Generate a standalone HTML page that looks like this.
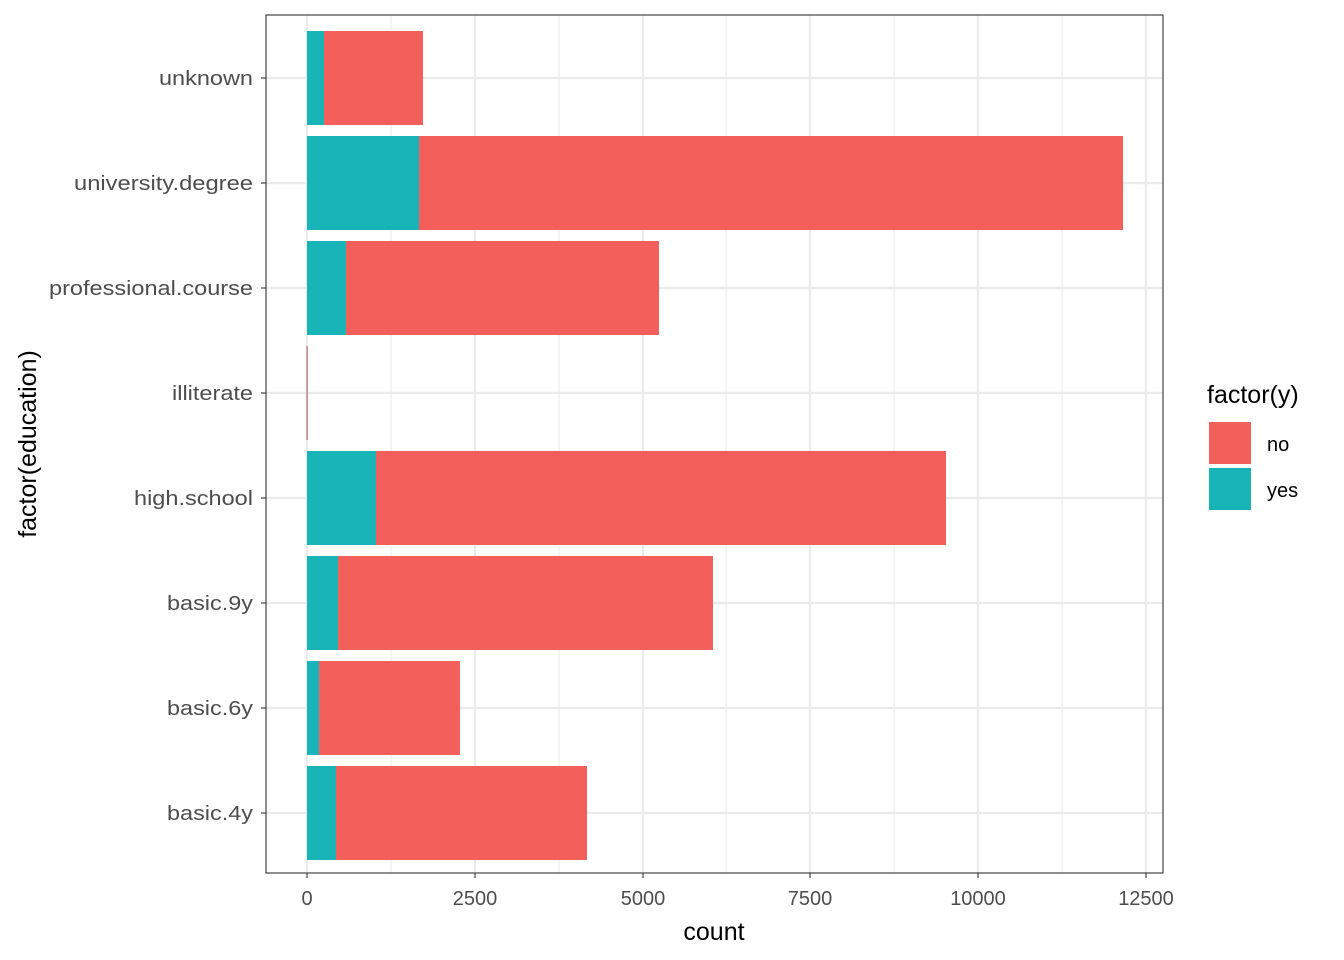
<!DOCTYPE html>
<html><head><meta charset="utf-8"><style>
html,body{margin:0;padding:0;background:#fff;}
svg{display:block;font-family:"Liberation Sans",Arial,sans-serif;}
</style></head><body>
<svg width="1344" height="960" viewBox="0 0 1344 960">
<rect x="266" y="15" width="897" height="858" fill="#fff"/>
<g stroke="#ebebeb" stroke-width="1.1">
<line x1="391" y1="15" x2="391" y2="873"/><line x1="559" y1="15" x2="559" y2="873"/><line x1="726" y1="15" x2="726" y2="873"/><line x1="894" y1="15" x2="894" y2="873"/><line x1="1062" y1="15" x2="1062" y2="873"/>
</g>
<g stroke="#ebebeb" stroke-width="2.2">
<line x1="307" y1="15" x2="307" y2="873"/><line x1="475" y1="15" x2="475" y2="873"/><line x1="643" y1="15" x2="643" y2="873"/><line x1="810" y1="15" x2="810" y2="873"/><line x1="978" y1="15" x2="978" y2="873"/><line x1="1146" y1="15" x2="1146" y2="873"/>
<line x1="266" y1="78" x2="1163" y2="78"/><line x1="266" y1="183" x2="1163" y2="183"/><line x1="266" y1="288" x2="1163" y2="288"/><line x1="266" y1="393" x2="1163" y2="393"/><line x1="266" y1="498" x2="1163" y2="498"/><line x1="266" y1="603" x2="1163" y2="603"/><line x1="266" y1="708" x2="1163" y2="708"/><line x1="266" y1="813" x2="1163" y2="813"/>
</g>
<g>
<rect x="307" y="31" width="116" height="94" fill="#f35f5a"/><rect x="307" y="31" width="17" height="94" fill="#19b4b8"/>
<rect x="307" y="136" width="816" height="94" fill="#f35f5a"/><rect x="307" y="136" width="112" height="94" fill="#19b4b8"/>
<rect x="307" y="241" width="352" height="94" fill="#f35f5a"/><rect x="307" y="241" width="39" height="94" fill="#19b4b8"/>
<rect x="306.5" y="346" width="1.2" height="94" fill="#b07070"/>
<rect x="307" y="451" width="639" height="94" fill="#f35f5a"/><rect x="307" y="451" width="69" height="94" fill="#19b4b8"/>
<rect x="307" y="556" width="406" height="94" fill="#f35f5a"/><rect x="307" y="556" width="31" height="94" fill="#19b4b8"/>
<rect x="307" y="661" width="153" height="94" fill="#f35f5a"/><rect x="307" y="661" width="12" height="94" fill="#19b4b8"/>
<rect x="307" y="766" width="280" height="94" fill="#f35f5a"/><rect x="307" y="766" width="29" height="94" fill="#19b4b8"/>
</g>
<rect x="266" y="15" width="897" height="858" fill="none" stroke="#333" stroke-width="1.1"/>
<g stroke="#333" stroke-width="1.1">
<line x1="261" y1="78" x2="266" y2="78"/><line x1="261" y1="183" x2="266" y2="183"/><line x1="261" y1="288" x2="266" y2="288"/><line x1="261" y1="393" x2="266" y2="393"/><line x1="261" y1="498" x2="266" y2="498"/><line x1="261" y1="603" x2="266" y2="603"/><line x1="261" y1="708" x2="266" y2="708"/><line x1="261" y1="813" x2="266" y2="813"/>
<line x1="307" y1="873" x2="307" y2="878"/><line x1="475" y1="873" x2="475" y2="878"/><line x1="643" y1="873" x2="643" y2="878"/><line x1="810" y1="873" x2="810" y2="878"/><line x1="978" y1="873" x2="978" y2="878"/><line x1="1146" y1="873" x2="1146" y2="878"/>
</g>
<g font-size="20" fill="#4d4d4d" text-anchor="end" lengthAdjust="spacingAndGlyphs">
<text x="253" y="85" textLength="94" lengthAdjust="spacingAndGlyphs">unknown</text>
<text x="253" y="190" textLength="179" lengthAdjust="spacingAndGlyphs">university.degree</text>
<text x="253" y="295" textLength="204" lengthAdjust="spacingAndGlyphs">professional.course</text>
<text x="253" y="400" textLength="81" lengthAdjust="spacingAndGlyphs">illiterate</text>
<text x="253" y="505" textLength="119" lengthAdjust="spacingAndGlyphs">high.school</text>
<text x="253" y="610" textLength="86" lengthAdjust="spacingAndGlyphs">basic.9y</text>
<text x="253" y="715" textLength="86" lengthAdjust="spacingAndGlyphs">basic.6y</text>
<text x="253" y="820" textLength="86" lengthAdjust="spacingAndGlyphs">basic.4y</text>
</g>
<g font-size="20" fill="#4d4d4d" text-anchor="middle">
<text x="307" y="905">0</text><text x="475" y="905">2500</text><text x="643" y="905">5000</text><text x="810" y="905">7500</text><text x="978" y="905">10000</text><text x="1146" y="905">12500</text>
</g>
<text x="714" y="940" font-size="25" text-anchor="middle" fill="#000">count</text>
<text transform="translate(36,444) rotate(-90)" font-size="25" text-anchor="middle" fill="#000">factor(education)</text>
<text x="1207" y="403" font-size="25" fill="#000">factor(y)</text>
<rect x="1209" y="422" width="42" height="42" fill="#f35f5a"/>
<rect x="1209" y="468" width="42" height="42" fill="#19b4b8"/>
<text x="1267" y="451" font-size="20" fill="#000">no</text>
<text x="1267" y="497" font-size="20" fill="#000">yes</text>
</svg>
</body></html>
